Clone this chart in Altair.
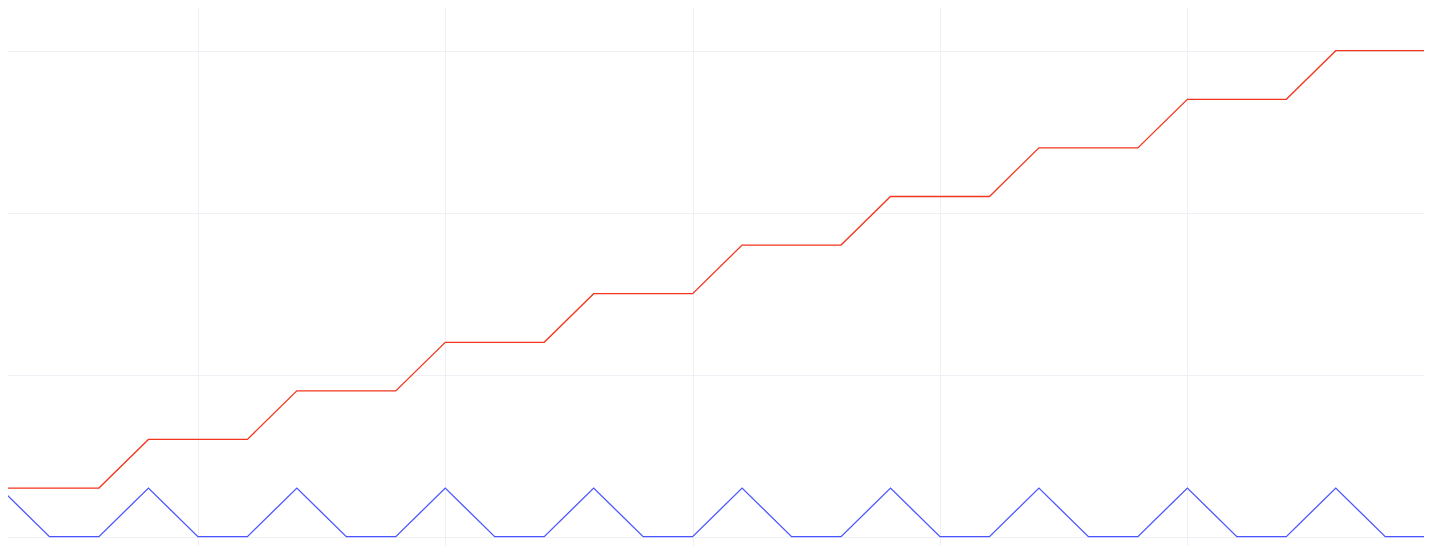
import altair as alt
import pandas as pd

x_vals = list(range(1, 31))
red_vals = [0.3, 0.3, 0.3, 0.6, 0.6, 0.6, 0.9, 0.9, 0.9, 1.2, 1.2, 1.2, 1.5, 1.5, 1.5,
            1.8, 1.8, 1.8, 2.1, 2.1, 2.1, 2.4, 2.4, 2.4, 2.7, 2.7, 2.7, 3.0, 3.0, 3.0]
blue_vals = [0.3, 0.0, 0.0] * 10
series_names = ["red", "blue"]
series_colors = ["#f2361c", "#4a55ff"]
x_ticks = [5, 10, 15, 20, 25]
y_ticks = [0, 1, 2, 3]

rows = []
for xv, r, b in zip(x_vals, red_vals, blue_vals):
    rows.append({"x": xv, "y": r, "s": "red"})
    rows.append({"x": xv, "y": b, "s": "blue"})
df = pd.DataFrame(rows)

chart = alt.Chart(df).mark_line(strokeWidth=1.3, clip=True).encode(
    x=alt.X("x:Q", scale=alt.Scale(domain=[1, 29.945], nice=False, zero=False),
            axis=alt.Axis(values=x_ticks, labels=False, ticks=False, domain=False,
                          title=None, grid=True, gridColor="#eef0f6", gridWidth=1)),
    y=alt.Y("y:Q", scale=alt.Scale(domain=[-0.107, 3.313], nice=False, zero=False),
            axis=alt.Axis(values=y_ticks, labels=False, ticks=False, domain=False,
                          title=None, grid=True, gridColor="#eef0f6", gridWidth=1)),
    color=alt.Color("s:N", scale=alt.Scale(domain=series_names, range=series_colors), legend=None),
).properties(
    width=1432, height=554,
    padding={"left": -8, "top": -8, "right": -8, "bottom": -8},
    autosize=alt.AutoSizeParams(type="none"),
).configure_view(stroke=None)

chart.save("out.html", embed_options={"renderer": "svg", "actions": False})
